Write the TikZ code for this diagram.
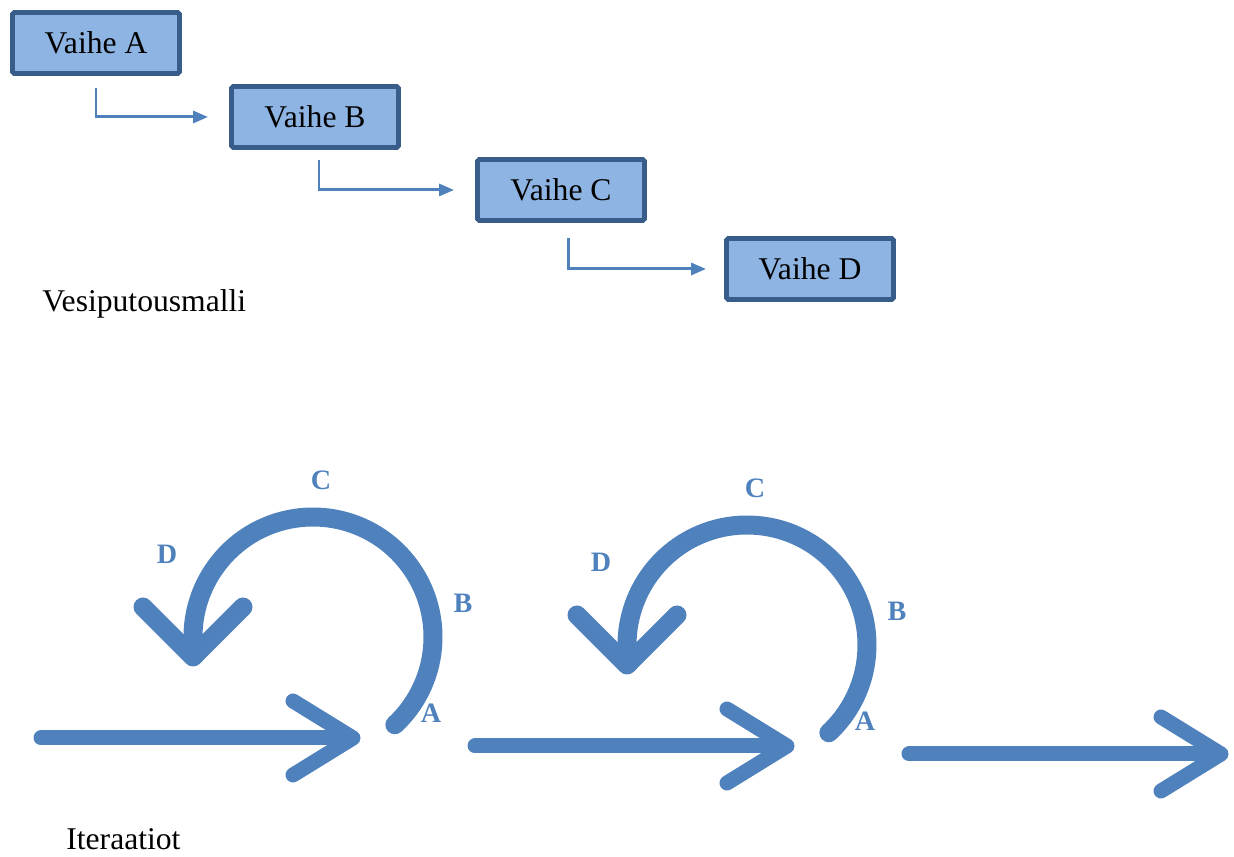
\documentclass[tikz,border=0pt]{standalone}
\usepackage{fontspec}
\setmainfont{Liberation Serif}
\usetikzlibrary{arrows.meta, positioning}
\definecolor{phaseline}{RGB}{56, 93, 138}
\definecolor{phasefill}{RGB}{142, 180, 227}
\definecolor{loopblue}{RGB}{79, 129, 189}

\begin{document}
\begin{tikzpicture}[
  x=0.2mm, y=0.2mm,
  phase/.style={draw=phaseline, fill=phasefill, line width=2.8pt, rounded corners=1pt,
    minimum width=3.34cm, minimum height=1.22cm, font=\fontsize{18}{21}\selectfont},
  flow/.style={-{Triangle[length=3mm, width=2.4mm]}, loopblue, line width=1.7pt},
  fat/.style={loopblue, line width=0.3cm, line cap=round, line join=round},
  fatloop/.style={fat, line width=0.38cm},
  step label/.style={loopblue, font=\fontsize{16}{18}\selectfont\bfseries},
  caption/.style={anchor=base west, inner sep=0pt, font=\fontsize{18}{21}\selectfont}
]
\useasboundingbox (0,0) rectangle (1234,857);

% waterfall
\node[phase] (A) at (96,814) {Vaihe A};
\node[phase] (B) at (315,740) {Vaihe B};
\node[phase] (C) at (561,667) {Vaihe C};
\node[phase] (D) at (810,588) {Vaihe D};

\draw[flow] ([yshift=-0.24cm]A.south) |- ([xshift=-0.42cm]B.west);
\draw[flow] ([xshift=0.08cm, yshift=-0.2cm]B.south) |- ([xshift=-0.42cm]C.west);
\draw[flow] ([xshift=0.14cm, yshift=-0.3cm]C.south) |- ([xshift=-0.36cm]D.west);

\node[caption] (wlabel) at (42,545) {Vesiputousmalli};

% iterations
\foreach \k in {0,1,2} {
  \begin{scope}[shift={(434*\k,-8*\k)}]
    \draw[fat] (41,119) -- (350,119);
    \draw[fat] (293,156) -- (353,119) -- (293,82);
  \end{scope}
}
\foreach \k in {0,1} {
  \begin{scope}[shift={(434*\k,-8*\k)}]
    \draw[fatloop] (313,220) ++(-47:120) arc[start angle=-47, end angle=189, radius=120];
    \draw[fatloop] (143,250) -- (193,200) -- (243,250);
    \node[step label] (lA\k) at (431,144) {A};
    \node[step label] (lB\k) at (463,254) {B};
    \node[step label] (lC\k) at (321,377) {C};
    \node[step label] (lD\k) at (167,303) {D};
  \end{scope}
}

\node[caption] (ilabel) at (66,7) {Iteraatiot};
\end{tikzpicture}
\end{document}
